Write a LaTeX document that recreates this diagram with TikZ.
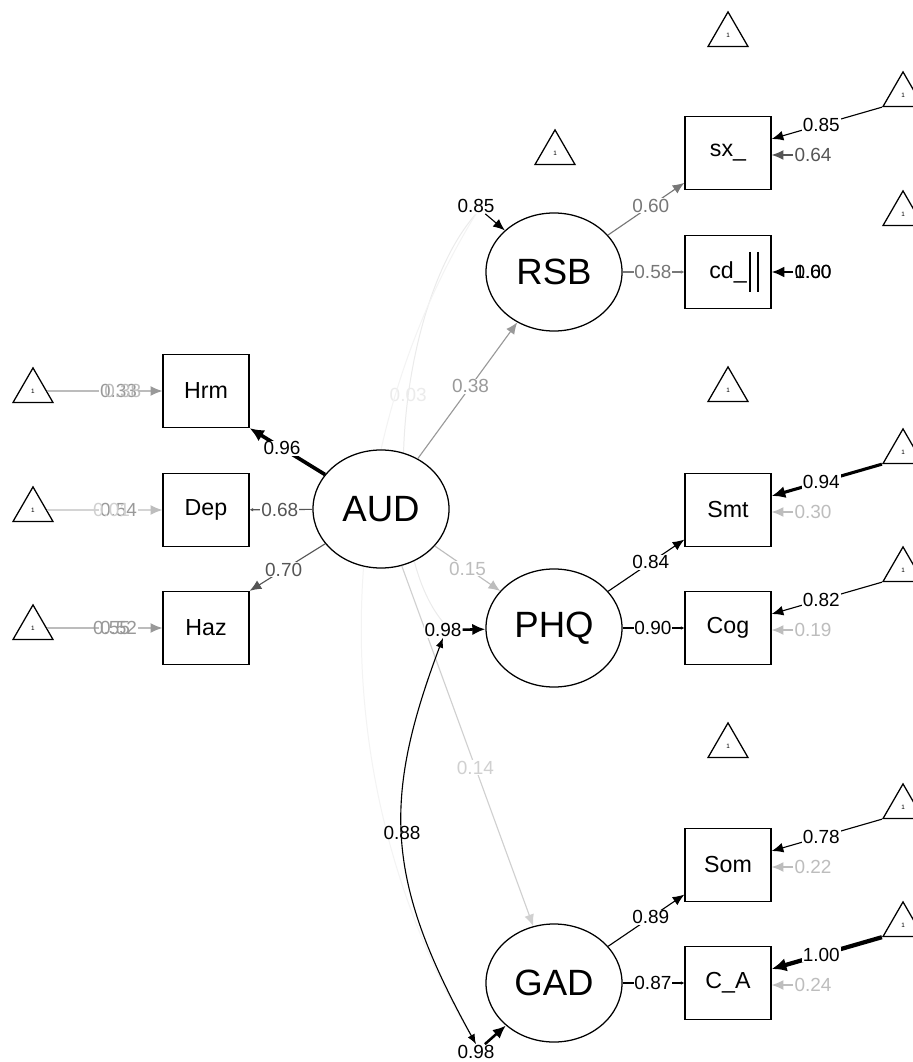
\documentclass[tikz,border=0pt]{standalone}
\usepackage{fontspec}
\setmainfont{Liberation Sans}
\usetikzlibrary{arrows.meta,shapes.geometric,calc,backgrounds}
\definecolor{semdark}{HTML}{555555}
\definecolor{semmid}{HTML}{777777}
\definecolor{semgrey}{HTML}{999999}
\definecolor{semlight}{HTML}{BDBDBD}
\definecolor{semlighter}{HTML}{D0D0D0}
\definecolor{semfaint}{HTML}{EBEBEB}

\tikzset{
  manifest/.style={draw,line width=0.9pt,fill=white,minimum width=2.15cm,minimum height=1.825cm,inner sep=0pt,font=\fontsize{16.5}{17}\selectfont},
  latent/.style={draw,ellipse,line width=0.9pt,fill=white,minimum width=3.4cm,minimum height=2.95cm,inner sep=0pt,font=\fontsize{26}{28}\selectfont},
  intercept/.style={draw,regular polygon,regular polygon sides=3,minimum size=1.155cm,inner sep=0pt,line width=0.9pt,font=\fontsize{4.5}{5}\selectfont},
  wt/.style={font=\fontsize{13.5}{14}\selectfont,inner sep=0.6pt,fill=white},
  wtclear/.style={wt,fill=none},
  regr/.style={line width=0.8pt,-{Latex[length=7.5pt 1,width=6pt 1.2]}},
  tiptiny/.style={-{Latex[length=2.5pt,width=2.5pt]}},
  covar/.style={line width=0.8pt,{Latex[length=7pt,width=5.5pt]}-{Latex[length=7pt,width=5.5pt]}},
}

\begin{document}
\begin{tikzpicture}[x=0.025cm,y=-0.025cm]
\useasboundingbox (0,0) rectangle (912,1062);

% latent variables
\node[latent] (AUD) at (381,509) {AUD};
\node[latent] (RSB) at (554,272) {RSB};
\node[latent] (PHQ) at (554,628) {PHQ};
\node[latent] (GAD) at (554,983) {GAD};

% intercepts of the latents
\node[intercept] (iAUD) at (728,35) {1};
\node[intercept] (iRSB) at (555,153) {1};
\node[intercept] (iPHQ) at (728,390) {1};
\node[intercept] (iGAD) at (728,746) {1};

% AUD indicators
\foreach \n/\y/\lc/\a/\b/\cb/\s in {Hrm/391/semgrey/0.33/0.38/semlight/3pt,
    Dep/510/semlight/0.54/0.01/semlighter/-5pt,
    Haz/628/semgrey/0.52/0.55/semgrey/-5pt}{
  \node[manifest] (\n) at (206,\y) {\n};
  \node[intercept] (i\n) at (33,\y) {1};
  \draw[regr,\lc] (i\n) -- (\n)
    node[wt,pos=0.62,text=semgrey] {\a}
    node[wtclear,pos=0.62,xshift=\s,text=\cb] {\b};
}

% indicators of RSB, PHQ, GAD
\foreach \n/\t/\y/\w/\lw/\v/\vc in {sx/sx\_/153/0.85/0.8pt/0.64/semdark,
    Smt/Smt/510/0.94/2.2pt/0.30/semlight,
    Cog/Cog/628/0.82/0.8pt/0.19/semlight,
    Som/Som/865/0.78/0.8pt/0.22/semlight,
    CA/C\_A/983/1.00/3pt/0.24/semlight}{
  \node[manifest] (\n) at (728,\y) {\t};
  \node[intercept] (i\n) at (903,\y-58) {1};
  \draw[regr,line width=\lw] (i\n.corner 2) -- ($(\n.east)+(0,-14)$)
    node[wt,pos=0.55] {\w};
  \node[wt,text=\vc] (v\n) at (813,\y+2) {\v};
  \draw[regr,\vc] (v\n) -- (v\n -| \n.east);
}
\node[manifest] (cd) at (728,272) {cd\_};
\draw[line width=1.3pt] ($(cd.east)+(-22,-20)$) -- ++(0,40)
  ($(cd.east)+(-14,-20)$) -- ++(0,40);
\node[intercept] (icd) at (903,214) {1};
\node[wt] (vcd) at (813,272) {0.60};
\node[wtclear] (vcdb) at (813,272) {1.00};
\draw[regr,line width=1.5pt] (vcd) -- (vcd -| cd.east);

% loadings
\foreach \l/\a/\b/\wa/\wb/\c in {RSB/sx/cd/0.60/0.58/semmid,
    PHQ/Smt/Cog/0.84/0.90/black, GAD/Som/CA/0.89/0.87/black}{
  \draw[regr,\c] (\l) -- (\a) node[wt,pos=0.56] {\wa};
  \draw[regr,tiptiny,\c] (\l) -- (\b) node[wt,pos=0.49] {\wb};
}
\draw[regr,line width=2.6pt] (AUD) -- (Hrm.south east) node[wt,pos=0.57] {0.96};
\draw[regr,tiptiny,semdark] (AUD) -- (Dep) node[wt,pos=0.52] {0.68};
\draw[regr,semdark] (AUD) -- (Haz.north east) node[wt,pos=0.55] {0.70};

% regressions on AUD
\draw[regr,semgrey] (AUD) -- (RSB) node[wt,pos=0.53] {0.38};
\draw[regr,semlight] (AUD) -- (PHQ) node[wt,pos=0.5] {0.15};
\draw[regr,semlighter] (AUD) -- (GAD) node[wt,pos=0.56] {0.14};

% residual variances
\node[wt] (rsbv) at (476,206) {0.85};
\node[wt] (phqv) at (443,630) {0.98};
\node[wt] (gadv) at (476,1052) {0.98};
\draw[regr] (rsbv) -- (RSB);
\draw[regr,line width=1.8pt] (phqv) -- (PHQ);
\draw[regr,line width=1.8pt] (gadv) -- (GAD);

% covariances
\draw[covar] (phqv.south) .. controls (382,800) and (385,880) .. (gadv.north)
  node[wtclear,pos=0.48] {0.88};
\begin{scope}[on background layer]
  \fill[white] (0,0) rectangle (912,1062);
  \draw[semfaint,line width=0.7pt] (rsbv.south) .. controls (400,300) and (375,540) .. (phqv.north)
    node[wtclear,pos=0.45,text=semfaint] {0.03};
  \draw[semfaint!60!white,line width=0.7pt] (rsbv.south) .. controls (323,463) and (323,795) .. (gadv.north);
\end{scope}
\end{tikzpicture}
\end{document}
